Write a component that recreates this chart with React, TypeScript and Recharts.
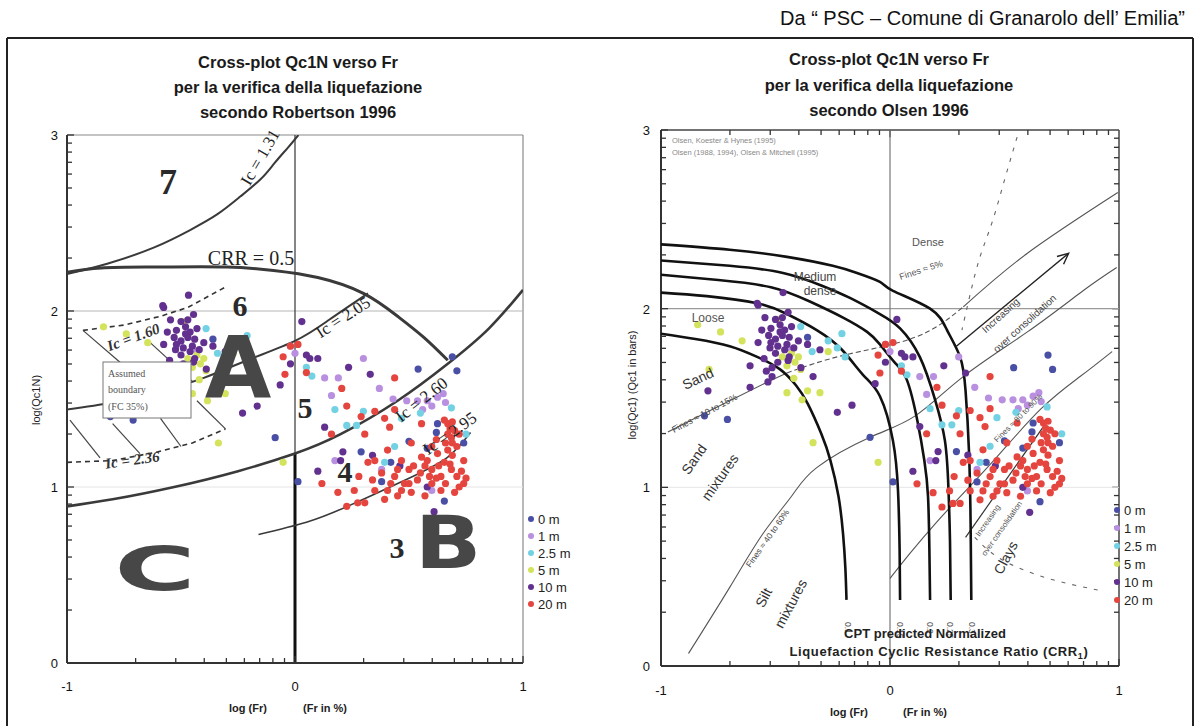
import React from 'react';
import { ScatterChart, Scatter, XAxis, YAxis, ReferenceLine } from 'recharts';

type P = [number, number];

// ---------------- legend / series ----------------
const depthLabels = ['0 m', '1 m', '2.5 m', '5 m', '10 m', '20 m'];
const depthColors = ['#4a4fa6', '#b98fe0', '#72d2e4', '#d4e35c', '#62318f', '#e5453f'];

// log(Fr), log(Qc1N) pairs (same data in both plots)
const pts0m: P[] = [
  [0.69, 1.74], [0.71, 1.66], [0.54, 1.67], [0.625, 1.36], [0.62, 1.31], [0.655, 0.92], [0.74, 1.25],
  [-0.71, 1.38], [-0.81, 1.40], [0.42, 1.14], [0.38, 1.03], [0.29, 1.20], [-0.087, 1.28], [0.013, 1.03],
  [0.5, 1.26], [-0.36, 1.84], [0.58, 1.22],
];
const pts1m: P[] = [
  [0.30, 1.73], [0.37, 1.56], [0.13, 1.62], [0.19, 1.62], [0.49, 1.49], [0.537, 1.49], [0.58, 1.49],
  [0.625, 1.51], [0.60, 1.46], [0.65, 1.53], [0.175, 1.15], [0.38, 1.10], [0.60, 0.98], [-0.02, 1.80],
  [-0.43, 1.77], [0.43, 1.50], [0.16, 1.52], [0.0, 1.76], [0.56, 1.44], [0.66, 1.48],
];
const pts25m: P[] = [
  [-0.21, 1.86], [-0.27, 1.82], [-0.23, 1.78], [-0.34, 1.76], [-0.196, 1.73], [-0.39, 1.90], [0.05, 1.68],
  [0.175, 1.44], [0.27, 1.35], [0.227, 1.35], [0.467, 1.39], [0.686, 1.45], [0.75, 1.30], [0.074, 1.63],
  [0.437, 1.23], [0.393, 1.14], [0.30, 1.43], [0.55, 1.42],
];
const pts5m: P[] = [
  [-0.84, 1.91], [-0.74, 1.87], [-0.646, 1.82], [-0.79, 1.66], [-0.49, 1.94], [-0.47, 1.73], [-0.43, 1.75],
  [-0.40, 1.73], [-0.415, 1.70], [-0.42, 1.61], [-0.36, 1.54], [-0.306, 1.53], [-0.384, 1.49], [-0.336, 1.25],
  [-0.052, 1.14], [-0.27, 1.76], [-0.45, 1.68], [-0.39, 1.66], [-0.45, 1.53],
];
const pts10m: P[] = [
  [-0.576, 2.02], [-0.445, 1.98], [-0.546, 1.95], [-0.50, 1.94], [-0.48, 1.91], [-0.46, 1.88], [-0.52, 1.89],
  [-0.47, 1.85], [-0.50, 1.83], [-0.45, 1.80], [-0.44, 1.84], [-0.49, 1.79], [-0.53, 1.85], [-0.576, 1.81],
  [-0.524, 1.78], [-0.445, 1.71], [-0.611, 1.68], [-0.515, 1.67], [-0.515, 1.62], [-0.533, 1.59],
  [-0.389, 1.67], [-0.306, 1.77], [-0.40, 1.82], [-0.36, 1.80], [-0.336, 1.62], [-0.166, 1.46], [-0.23, 1.42],
  [-0.611, 1.56], [-0.467, 2.09], [-0.58, 2.03], [-0.55, 1.72], [-0.54, 1.65], [-0.50, 1.75], [-0.47, 1.95],
  [-0.43, 1.90], [-0.42, 1.78], [-0.56, 1.88], [-0.49, 1.70], [0.03, 1.94], [-0.02, 1.70], [0.065, 1.73],
  [0.10, 1.73], [0.235, 1.68], [0.33, 1.64], [-0.065, 1.58], [0.61, 0.86], [0.10, 1.09], [0.20, 1.15],
  [0.21, 1.20], [-0.795, 1.54], [0.13, 1.34], [0.46, 1.12], [0.58, 1.00], [0.05, 1.75], [0.34, 1.18],
  [-0.48, 1.87], [-0.52, 1.81], [-0.46, 1.77], [-0.44, 1.73],
];
const pts20m: P[] = [
  [-0.02, 1.80], [0.013, 1.81], [-0.052, 1.74], [-0.044, 1.64], [0.437, 1.62], [0.205, 1.56], [0.227, 1.46],
  [0.29, 1.40], [0.35, 1.43], [0.437, 1.44], [0.393, 1.39], [0.16, 1.30], [0.306, 1.30], [0.415, 1.34],
  [0.555, 1.36], [0.655, 1.38], [0.67, 1.36], [0.69, 1.37], [0.70, 1.32], [0.686, 1.28], [0.72, 1.30],
  [0.68, 1.33], [0.71, 1.23], [0.67, 1.21], [0.625, 1.19], [0.60, 1.23], [0.655, 1.14], [0.58, 1.15],
  [0.555, 1.17], [0.51, 1.25], [0.50, 1.10], [0.467, 1.15], [0.32, 1.14], [0.35, 1.15], [0.406, 1.21],
  [0.74, 1.15], [0.74, 1.02], [0.70, 0.97], [0.64, 0.98], [0.60, 1.02], [0.57, 0.95], [0.51, 0.97],
  [0.467, 0.98], [0.406, 0.98], [0.393, 0.93], [0.35, 0.98], [0.306, 0.91], [0.275, 0.91], [0.227, 0.89],
  [0.118, 1.02], [0.188, 0.97], [0.437, 1.06], [0.48, 1.02], [0.537, 1.04], [0.60, 1.10], [0.64, 1.06],
  [0.686, 1.10], [0.71, 1.06], [0.73, 1.09], [0.62, 1.27], [0.66, 1.25], [0.69, 1.18], [0.55, 1.08],
  [0.52, 1.12], [0.45, 1.10], [0.42, 1.02], [0.38, 1.08], [0.66, 1.02], [0.72, 1.00], [0.75, 1.05],
  [0.63, 1.12], [0.59, 1.06], [0.50, 1.02], [0.45, 0.95], [0.34, 1.04], [0.28, 1.06], [0.26, 0.98],
  [0.67, 1.30], [0.69, 1.25], [0.05, 1.65], [0.68, 1.13], [0.62, 1.05], [0.57, 1.12],
];
const depthSeries: P[][] = [pts0m, pts1m, pts25m, pts5m, pts10m, pts20m];

// ---------------- axes ----------------
const xTicks = [-1, -0.699, -0.523, -0.398, -0.301, -0.222, -0.155, -0.097, -0.046, 0,
  0.301, 0.477, 0.602, 0.699, 0.778, 0.845, 0.903, 0.954, 1];
const yTicks = [0, 0.301, 0.477, 0.602, 0.699, 0.778, 0.845, 0.903, 0.954, 1,
  1.301, 1.477, 1.602, 1.699, 1.778, 1.845, 1.903, 1.954, 2,
  2.301, 2.477, 2.602, 2.699, 2.778, 2.845, 2.903, 2.954, 3];

// ---------------- Robertson 1996 boundaries ----------------
const robIc131: P[] = [[-1, 2.21], [-0.82, 2.27], [-0.62, 2.36], [-0.46, 2.46], [-0.34, 2.55], [-0.24, 2.65], [-0.15, 2.75], [-0.09, 2.84], [-0.03, 2.93], [0.015, 3.0]];
const robCrr05: P[] = [[-1, 2.22], [-0.85, 2.245], [-0.6, 2.25], [-0.3, 2.25], [-0.094, 2.23], [0.1, 2.19], [0.3, 2.10], [0.45, 1.97], [0.565, 1.85], [0.67, 1.72]];
const robIc205: P[] = [[-1, 1.44], [-0.8, 1.48], [-0.6, 1.54], [-0.4, 1.62], [-0.21, 1.72], [0, 1.83], [0.15, 1.95], [0.32, 2.10]];
const robIc260: P[] = [[-1, 0.89], [-0.8, 0.93], [-0.53, 1.0], [-0.25, 1.09], [0, 1.19], [0.2, 1.3], [0.45, 1.49], [0.67, 1.70], [0.85, 1.9], [1.0, 2.12]];
const robIc295: P[] = [[-0.16, 0.73], [0.05, 0.8], [0.23, 0.89], [0.5, 1.05], [0.67, 1.17], [0.77, 1.31]];
const robIc160: P[] = [[-0.93, 1.89], [-0.75, 1.92], [-0.59, 1.97], [-0.47, 2.02], [-0.30, 2.14]];
const robIc236: P[] = [[-1, 1.14], [-0.8, 1.15], [-0.6, 1.2], [-0.45, 1.25], [-0.305, 1.33]];
const robHatch: P[][] = [
  [[-0.93, 1.89], [-0.76, 1.70]],
  [[-0.987, 1.38], [-0.855, 1.165]],
  [[-0.80, 1.36], [-0.68, 1.19]],
  [[-0.59, 1.39], [-0.50, 1.23]],
  [[-0.43, 1.49], [-0.305, 1.33]],
  [[-0.635, 1.82], [-0.45, 1.60]],
];

// ---------------- Olsen 1996 boundaries ----------------
const olsCrr01: P[] = [[-1, 1.86], [-0.85, 1.83], [-0.70, 1.79], [-0.58, 1.73], [-0.48, 1.66], [-0.41, 1.57], [-0.36, 1.47], [-0.30, 1.30], [-0.26, 1.15], [-0.225, 0.95], [-0.205, 0.74], [-0.195, 0.55], [-0.19, 0.37]];
const olsCrr015: P[] = [[-1, 2.09], [-0.8, 2.07], [-0.58, 2.03], [-0.45, 1.97], [-0.32, 1.88], [-0.21, 1.77], [-0.118, 1.63], [-0.044, 1.51], [0.013, 1.26], [0.035, 0.98], [0.042, 0.65], [0.044, 0.37]];
const olsCrr02: P[] = [[-1, 2.19], [-0.75, 2.16], [-0.52, 2.12], [-0.35, 2.04], [-0.205, 1.95], [-0.1, 1.87], [-0.044, 1.80], [0.02, 1.70], [0.074, 1.60], [0.12, 1.37], [0.15, 1.15], [0.166, 0.95], [0.172, 0.65], [0.175, 0.37]];
const olsCrr025: P[] = [[-1, 2.27], [-0.7, 2.24], [-0.467, 2.2], [-0.3, 2.13], [-0.175, 2.06], [-0.044, 1.97], [0.044, 1.89], [0.13, 1.73], [0.197, 1.49], [0.24, 1.26], [0.255, 1.0], [0.262, 0.7], [0.265, 0.37]];
const olsCrr03: P[] = [[-1, 2.36], [-0.7, 2.33], [-0.45, 2.29], [-0.25, 2.24], [-0.144, 2.2], [-0.044, 2.15], [0.013, 2.10], [0.175, 2.0], [0.249, 1.88], [0.306, 1.73], [0.33, 1.54], [0.345, 1.2], [0.352, 0.8], [0.355, 0.37]];
const olsFines1015: P[] = [[-0.97, 1.31], [-0.77, 1.44], [-0.55, 1.58], [-0.45, 1.64]];
const olsFines5: P[] = [[-0.45, 1.64], [-0.2, 1.74], [0.11, 1.84], [0.32, 2.01]];
const olsUpper: P[] = [[0.32, 2.01], [0.6, 2.31], [0.995, 2.65]];
const olsFines4060: P[] = [[-0.88, 0.07], [-0.70, 0.44], [-0.555, 0.74], [-0.43, 0.95], [-0.32, 1.11], [-0.087, 1.28], [0.11, 1.40], [0.32, 1.62], [0.6, 1.87], [0.843, 2.1], [0.99, 2.23]];
const olsFines80: P[] = [[0.0, 0.49], [0.087, 0.63], [0.2, 0.80], [0.33, 0.98], [0.467, 1.17], [0.66, 1.44], [0.83, 1.62], [0.97, 1.76]];
const olsArrowUp: P[] = [[0.29, 1.79], [0.78, 2.31]];
const olsArrowHead: P[] = [[0.729, 2.292], [0.78, 2.31], [0.758, 2.249]];
const olsArrowLow: P[] = [[0.33, 0.72], [0.67, 1.34]];
const olsDenseDash: P[] = [[0.555, 2.96], [0.50, 2.72], [0.445, 2.48], [0.393, 2.29], [0.35, 2.08], [0.314, 1.88]];
const olsClaysDash: P[] = [[0.37, 0.72], [0.47, 0.61], [0.62, 0.52], [0.78, 0.46], [0.93, 0.42]];

// ---------------- rendering helpers ----------------
const SANS = '"Liberation Sans", Arial, sans-serif';
const SERIF = '"Liberation Serif", "Times New Roman", serif';
const toXY = (a: P[]) => a.map(([x, y]) => ({ x, y }));
const NoShape = () => <g />;
const isMajor = (v: number) => Math.abs(v - Math.round(v)) < 1e-6;

const makeXTick = (dy: number) => (props: any) => {
  const { x, y, payload } = props;
  const v = payload.value as number;
  const m = isMajor(v);
  return (
    <g>
      <path d={`M${x},${y}L${x},${y - (m ? 7 : 5)}`} stroke="#333" strokeWidth={1.3} fill="none" />
      {m && (
        <text x={x} y={y + dy} textAnchor="middle" fontSize={13} fontFamily={SANS} fill="#111">{String(v)}</text>
      )}
    </g>
  );
};
const makeYTick = (dx: number) => (props: any) => {
  const { x, y, payload } = props;
  const v = payload.value as number;
  const m = isMajor(v);
  return (
    <g>
      <path d={`M${x},${y}L${x + (m ? 7 : 5)},${y}`} stroke="#333" strokeWidth={1.3} fill="none" />
      {m && (
        <text x={x - dx} y={y + 5} textAnchor="end" fontSize={13} fontFamily={SANS} fill="#111">{String(v)}</text>
      )}
    </g>
  );
};

const curve = (key: string, pts: P[], stroke: string, width: number, dash?: string, joint: any = 'natural') => (
  <Scatter
    key={key}
    data={toXY(pts)}
    line={{ stroke, strokeWidth: width, strokeDasharray: dash, fill: 'none' }}
    lineJointType={joint}
    shape={NoShape}
    isAnimationActive={false}
  />
);

const points = (prefix: string) =>
  depthSeries.map((s, i) => (
    <Scatter
      key={prefix + i}
      name={depthLabels[i]}
      data={toXY(s)}
      fill={depthColors[i]}
      shape={(p: any) => <circle cx={p.cx} cy={p.cy} r={3.6} fill={depthColors[i]} />}
      isAnimationActive={false}
    />
  ));

const T = ({ x, y, r = 0, size = 12, fam = SANS, weight = 'normal', fill = '#222', anchor = 'middle', italic = false, children }: any) => (
  <text
    transform={`translate(${x},${y}) rotate(${r})`}
    textAnchor={anchor}
    fontSize={size}
    fontFamily={fam}
    fontWeight={weight}
    fontStyle={italic ? 'italic' : 'normal'}
    fill={fill}
  >
    {children}
  </text>
);

export default function App() {
  const XTickL = makeXTick(28);
  const YTickL = makeYTick(9);
  const XTickR = makeXTick(29);
  const YTickR = makeYTick(11);
  const minorX = xTicks.filter((v) => v > -1 && v < 1);
  const minorY = yTicks.filter((v) => v > 0 && v < 3);

  return (
    <div style={{ position: 'absolute', left: 0, top: 0, width: 1201, height: 726, background: '#fff', overflow: 'hidden', fontFamily: SANS }}>
      {/* ---------- Left: Robertson 1996 ---------- */}
      <div style={{ position: 'absolute', left: 0, top: 0 }}>
        <ScatterChart width={600} height={726} margin={{ top: 135, right: 77, bottom: 33, left: 37 }}>
          <XAxis type="number" dataKey="x" domain={[-1, 1]} ticks={xTicks} interval={0} allowDataOverflow height={30}
            tickSize={0} tickMargin={0} tickLine={false} axisLine={{ stroke: '#333', strokeWidth: 2 }} tick={XTickL} />
          <YAxis type="number" dataKey="y" domain={[0, 3]} ticks={yTicks} interval={0} allowDataOverflow width={30}
            tickSize={0} tickMargin={0} tickLine={false} axisLine={{ stroke: '#333', strokeWidth: 2 }} tick={YTickL} />
          <ReferenceLine y={3} stroke="#8a8a8a" strokeWidth={1.2} ifOverflow="visible" />
          <ReferenceLine x={1} stroke="#8a8a8a" strokeWidth={1.2} ifOverflow="visible" />
          <ReferenceLine y={2} stroke="#b5b5b5" strokeWidth={1.2} />
          <ReferenceLine y={1} stroke="#e4e4e4" strokeWidth={1} />
          <ReferenceLine segment={[{ x: 0, y: 1.19 }, { x: 0, y: 3 }]} stroke="#444" strokeWidth={1.3} />
          <ReferenceLine segment={[{ x: 0, y: 0 }, { x: 0, y: 1.19 }]} stroke="#111" strokeWidth={3} />
          {curve('ic131', robIc131, '#3a3a3a', 2)}
          {curve('crr05', robCrr05, '#3a3a3a', 3)}
          {curve('ic205', robIc205, '#3a3a3a', 2)}
          {curve('ic260', robIc260, '#3a3a3a', 2.6)}
          {curve('ic295', robIc295, '#3a3a3a', 1.6)}
          {curve('ic160', robIc160, '#333', 1.6, '5 4', 'linear')}
          {curve('ic236', robIc236, '#333', 1.6, '5 4', 'linear')}
          {robHatch.map((h, i) => curve('hatch' + i, h, '#444', 1.2, undefined, 'linear'))}
          {points('L')}
        </ScatterChart>
      </div>

      {/* ---------- Right: Olsen 1996 ---------- */}
      <div style={{ position: 'absolute', left: 600, top: 0 }}>
        <ScatterChart width={601} height={726} margin={{ top: 130, right: 82, bottom: 30, left: 31 }}>
          <XAxis type="number" dataKey="x" domain={[-1, 1]} ticks={xTicks} interval={0} allowDataOverflow height={30}
            tickSize={0} tickMargin={0} tickLine={false} axisLine={{ stroke: '#333', strokeWidth: 2 }} tick={XTickR} />
          <YAxis type="number" dataKey="y" domain={[0, 3]} ticks={yTicks} interval={0} allowDataOverflow width={30}
            tickSize={0} tickMargin={0} tickLine={false} axisLine={{ stroke: '#333', strokeWidth: 2 }} tick={YTickR} />
          <ReferenceLine y={3} stroke="#444" strokeWidth={1.5} ifOverflow="visible" />
          <ReferenceLine x={1} stroke="#444" strokeWidth={1.5} ifOverflow="visible" />
          {minorX.map((v) => (
            <ReferenceLine key={'tx' + v} ifOverflow="visible" segment={[{ x: v, y: 3 }, { x: v, y: isMajor(v) ? 2.96 : 2.972 }]} stroke="#333" strokeWidth={1.3} />
          ))}
          {minorY.map((v) => (
            <ReferenceLine key={'ty' + v} ifOverflow="visible" segment={[{ x: 1, y: v }, { x: isMajor(v) ? 0.97 : 0.978, y: v }]} stroke="#333" strokeWidth={1.3} />
          ))}
          <ReferenceLine y={2} stroke="#9a9a9a" strokeWidth={1.2} />
          <ReferenceLine y={1} stroke="#e6e6e6" strokeWidth={1} />
          <ReferenceLine x={0} stroke="#777" strokeWidth={1.2} />
          {curve('f1015', olsFines1015, '#555', 1.1)}
          {curve('f5', olsFines5, '#555', 1.1, '5 3')}
          {curve('fup', olsUpper, '#555', 1.1)}
          {curve('f4060', olsFines4060, '#555', 1.1)}
          {curve('f80', olsFines80, '#555', 1.1)}
          {curve('aup', olsArrowUp, '#222', 1.4, undefined, 'linear')}
          {curve('ahead', olsArrowHead, '#222', 1.4, undefined, 'linear')}
          {curve('alow', olsArrowLow, '#333', 1.2, undefined, 'linear')}
          {curve('ddash', olsDenseDash, '#666', 1.1, '4 7')}
          {curve('cdash', olsClaysDash, '#666', 1.1, '4 7')}
          {curve('c01', olsCrr01, '#111', 2.6)}
          {curve('c015', olsCrr015, '#111', 2.6)}
          {curve('c02', olsCrr02, '#111', 2.6)}
          {curve('c025', olsCrr025, '#111', 2.6)}
          {curve('c03', olsCrr03, '#111', 2.6)}
          {points('R')}
        </ScatterChart>
      </div>

      {/* ---------- Text overlay ---------- */}
      <svg width={1201} height={726} style={{ position: 'absolute', left: 0, top: 0, pointerEvents: 'none' }}>
        {/* frame */}
        <line x1={7} y1={38} x2={1193} y2={38} stroke="#222" strokeWidth={2} />
        <line x1={7} y1={38} x2={7} y2={726} stroke="#222" strokeWidth={2} />
        <line x1={1193} y1={38} x2={1193} y2={726} stroke="#222" strokeWidth={2} />

        <T x={1185} y={25} size={20} anchor="end" fill="#111">Da “ PSC – Comune di Granarolo dell’ Emilia”</T>

        {/* left titles */}
        <T x={298} y={68} size={16.5} weight="bold" fill="#1a1a1a">Cross-plot Qc1N verso Fr</T>
        <T x={298} y={93} size={16.5} weight="bold" fill="#1a1a1a">per la verifica della liquefazione</T>
        <T x={298} y={118} size={16.5} weight="bold" fill="#1a1a1a">secondo Robertson 1996</T>
        {/* right titles */}
        <T x={889} y={65} size={16.5} weight="bold" fill="#1a1a1a">Cross-plot Qc1N verso Fr</T>
        <T x={889} y={91} size={16.5} weight="bold" fill="#1a1a1a">per la verifica della liquefazione</T>
        <T x={889} y={116} size={16.5} weight="bold" fill="#1a1a1a">secondo Olsen 1996</T>

        {/* axis titles */}
        <T x={248} y={712} size={11} weight="bold">log (Fr)</T>
        <T x={325} y={712} size={11} weight="bold">(Fr in %)</T>
        <T x={40} y={400} r={-90} size={11}>log(Qc1N)</T>
        <T x={849} y={716} size={11} weight="bold">log (Fr)</T>
        <T x={925} y={716} size={11} weight="bold">(Fr in %)</T>
        <T x={636} y={385} r={-90} size={11}>log(Qc1)   (Qc1 in bars)</T>

        {/* Robertson annotations */}
        <T x={168} y={194} size={36} fam={SERIF} weight="bold" fill="#2a2a2a">7</T>
        <T x={251} y={265} size={20} fam={SERIF} fill="#222">CRR = 0.5</T>
        <T x={265} y={160} r={-60} size={17} fam={SERIF} fill="#222">Ic = 1.31</T>
        <T x={346} y={322} r={-33} size={17} fam={SERIF} fill="#222">Ic = 2.05</T>
        <T x={425} y={404} r={-38} size={17} fam={SERIF} fill="#222">Ic = 2.60</T>
        <T x={453} y={438} r={-35} size={17} fam={SERIF} fill="#222">Ic = 2.95</T>
        <T x={135} y={342} r={-20} size={15} fam={SERIF} weight="bold" italic fill="#333">Ic = 1.60</T>
        <T x={133} y={465} r={-8} size={15} fam={SERIF} weight="bold" italic fill="#333">Ic = 2.36</T>
        <T x={240} y={316} size={30} fam={SERIF} weight="bold" fill="#2a2a2a">6</T>
        <T x={305} y={418} size={30} fam={SERIF} weight="bold" fill="#2a2a2a">5</T>
        <T x={345} y={482} size={30} fam={SERIF} weight="bold" fill="#2a2a2a">4</T>
        <T x={397} y={558} size={30} fam={SERIF} weight="bold" fill="#2a2a2a">3</T>
        <text x={238} y={397} textAnchor="middle" fontSize={86} fontWeight={900} fontFamily='"DejaVu Sans", sans-serif' fill="#474747">A</text>
        <text transform="translate(448,568) scale(1.2,1)" textAnchor="middle" fontSize={73} fontWeight={900} fontFamily='"DejaVu Sans", sans-serif' fill="#474747">B</text>
        <text transform="translate(155,590) scale(1.85,1)" textAnchor="middle" fontSize={60} fontWeight={900} fontFamily='"DejaVu Sans", sans-serif' fill="#474747">C</text>
        <rect x={103} y={362} width={88} height={56} fill="#fff" stroke="#777" strokeWidth={1} />
        <T x={108} y={377} anchor="start" size={10} fam={SERIF} fill="#555">Assumed</T>
        <T x={108} y={393} anchor="start" size={10} fam={SERIF} fill="#555">boundary</T>
        <T x={108} y={410} anchor="start" size={10} fam={SERIF} fill="#555">(FC 35%)</T>

        {/* Olsen annotations */}
        <T x={672} y={143} anchor="start" size={7.5} fill="#888">Olsen, Koester &amp; Hynes (1995)</T>
        <T x={672} y={155} anchor="start" size={7.5} fill="#888">Olsen (1988, 1994), Olsen &amp; Mitchell (1995)</T>
        <T x={928} y={246} size={11} fill="#555">Dense</T>
        <T x={922} y={273} r={-18} size={9} fill="#555">Fines ≈ 5%</T>
        <T x={815} y={281} size={12} fill="#444">Medium</T>
        <T x={820} y={295} size={12} fill="#444">dense</T>
        <T x={708} y={322} size={12} fill="#555">Loose</T>
        <T x={700} y={383} r={-25} size={14} fill="#333">Sand</T>
        <T x={706} y={416} r={-28} size={9} fill="#444">Fines ≈ 10 to 15%</T>
        <T x={698} y={462} r={-55} size={14} fill="#333">Sand</T>
        <T x={724} y={480} r={-55} size={14} fill="#333">mixtures</T>
        <T x={770} y={540} r={-55} size={8.5} fill="#444">Fines ≈ 40 to 60%</T>
        <T x={768} y={600} r={-62} size={14} fill="#333">Silt</T>
        <T x={795} y={606} r={-62} size={14} fill="#333">mixtures</T>
        <T x={1010} y={560} r={-62} size={14} fill="#333">Clays</T>
        <T x={1003} y={318} r={-42} size={10} fill="#444">Increasing</T>
        <T x={1027} y={326} r={-42} size={10} fill="#444">over consolidation</T>
        <T x={990} y={522} r={-55} size={8} fill="#555">Increasing</T>
        <T x={1004} y={530} r={-55} size={8} fill="#555">over consolidation</T>
        <T x={1020} y={420} r={-45} size={8} fill="#555">Fines ≈ 80 to 90%</T>
        <T x={845} y={622} r={90} size={8.5} fill="#555" anchor="start">0.1</T>
        <T x={897} y={622} r={90} size={8.5} fill="#555" anchor="start">0.15</T>
        <T x={927} y={622} r={90} size={8.5} fill="#555" anchor="start">0.2</T>
        <T x={947} y={622} r={90} size={8.5} fill="#555" anchor="start">0.25</T>
        <T x={969} y={622} r={90} size={8.5} fill="#555" anchor="start">0.3</T>
        <T x={925} y={638} size={13} weight="bold" fill="#222" >CPT predicted Normalized</T>
        <text x={939} y={656} textAnchor="middle" fontSize={13} fontWeight="bold" fontFamily={SANS} fill="#222" letterSpacing={0.6}>
          Liquefaction Cyclic Resistance Ratio (CRR<tspan fontSize={9} dy={3}>1</tspan><tspan dy={-3}>)</tspan>
        </text>

        {/* legends */}
        {depthLabels.map((lab, i) => (
          <g key={'lgL' + i}>
            <circle cx={531} cy={519 + 17 * i} r={3} fill={depthColors[i]} />
            <text x={538} y={519 + 17 * i + 4.5} fontSize={13} fontFamily={SANS} fill="#222">{lab}</text>
          </g>
        ))}
        {depthLabels.map((lab, i) => (
          <g key={'lgR' + i}>
            <circle cx={1117} cy={510 + 18 * i} r={3} fill={depthColors[i]} />
            <text x={1124} y={510 + 18 * i + 4.5} fontSize={13} fontFamily={SANS} fill="#222">{lab}</text>
          </g>
        ))}
      </svg>
    </div>
  );
}
